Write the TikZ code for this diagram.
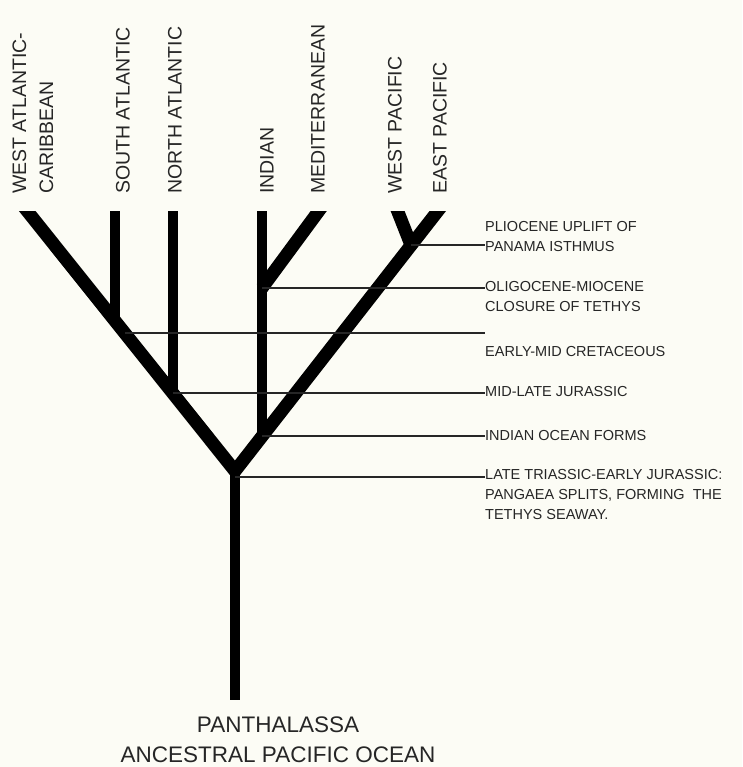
\documentclass[tikz,border=0pt]{standalone}
\usepackage{fontspec}
\setmainfont{Liberation Sans}
\usetikzlibrary{positioning,calc}
\definecolor{paper}{RGB}{252,252,245}

\begin{document}
\begin{tikzpicture}[x=1pt, y=-1pt,
    branch/.style={line width=10pt},
    limb/.style={line width=13pt, line join=miter},
    era/.style={line width=1.1pt, black!85},
    ocean/.style={rotate=90, anchor=west, inner sep=0pt, align=left, text=black!85, font=\fontsize{19.5}{27}\selectfont},
    event/.style={anchor=west, inner sep=0pt, align=left, text=black!85, font=\fontsize{14.5}{20}\selectfont},
    sea/.style={inner sep=0pt, align=center, text=black!85, font=\fontsize{22.5}{30}\selectfont}
]
\fill[paper] (0,0) rectangle (742,767);
\useasboundingbox (0,0) rectangle (742,767);

% tips of the branches
\coordinate (wac) at (28,212);
\coordinate (satl) at (115,212);
\coordinate (natl) at (173,212);
\coordinate (ind) at (262,212);
\coordinate (med) at (318,212);
\coordinate (wpac) at (398,212);
\coordinate (epac) at (437,212);
% forks
\coordinate (root) at (235,471);
\coordinate (base) at (235,700);
\coordinate (jsatl) at (115,321);
\coordinate (jnatl) at (173,393);
\coordinate (kcret) at (125,333);
\coordinate (jind) at (262,436);
\coordinate (jmed) at (262,288);
\coordinate (jpac) at (411,245);
\coordinate (kroot) at (235,477);

\begin{scope}
\clip (0,212) rectangle (742,767);
\draw[limb, shorten <=-10pt, shorten >=-10pt] (wac) -- (root) -- (epac);
\draw[branch] ([yshift=2pt]root) -- (base);
\draw[branch, shorten <=-10pt] (satl) -- (jsatl);
\draw[branch, shorten <=-10pt] (natl) -- (jnatl);
\draw[branch, shorten <=-10pt] (ind) -- (jind);
\draw[limb, shorten <=-10pt] (med) -- (jmed);
\draw[limb, shorten <=-10pt] (wpac) -- (jpac);
\end{scope}

% oceans
\node[ocean] (lwac) at (33,194) {WEST ATLANTIC-\\CARIBBEAN};
\node[ocean] (lsatl) at (123,194) {SOUTH ATLANTIC};
\node[ocean] (lnatl) at (175,194) {NORTH ATLANTIC};
\node[ocean] (lind) at (267,194) {INDIAN};
\node[ocean] (lmed) at (318,194) {MEDITERRANEAN};
\node[ocean] (lwpac) at (395,194) {WEST PACIFIC};
\node[ocean] (lepac) at (440,194) {EAST PACIFIC};

\node[sea] (panth) at (278,740) {PANTHALASSA\\ANCESTRAL PACIFIC OCEAN};

% events
\node[event] (plio) at (485,237) {PLIOCENE UPLIFT OF\\PANAMA ISTHMUS};
\node[event] (oligo) at (485,297) {OLIGOCENE-MIOCENE\\CLOSURE OF TETHYS};
\node[event] (cret) at (485,352) {EARLY-MID CRETACEOUS};
\node[event] (jura) at (485,392) {MID-LATE JURASSIC};
\node[event] (indo) at (485,436) {INDIAN OCEAN FORMS};
\node[event] (tria) at (485,495) {LATE TRIASSIC-EARLY JURASSIC:\\PANGAEA SPLITS, FORMING \ THE\\TETHYS SEAWAY.};

\draw[era] (jpac) -- (jpac -| plio.west);
\draw[era] (jmed) -- (jmed -| oligo.west);
\draw[era] (kcret) -- (kcret -| cret.west);
\draw[era] (jnatl) -- (jnatl -| jura.west);
\draw[era] (jind) -- (jind -| indo.west);
\draw[era] (kroot) -- (kroot -| tria.west);
\end{tikzpicture}
\end{document}
